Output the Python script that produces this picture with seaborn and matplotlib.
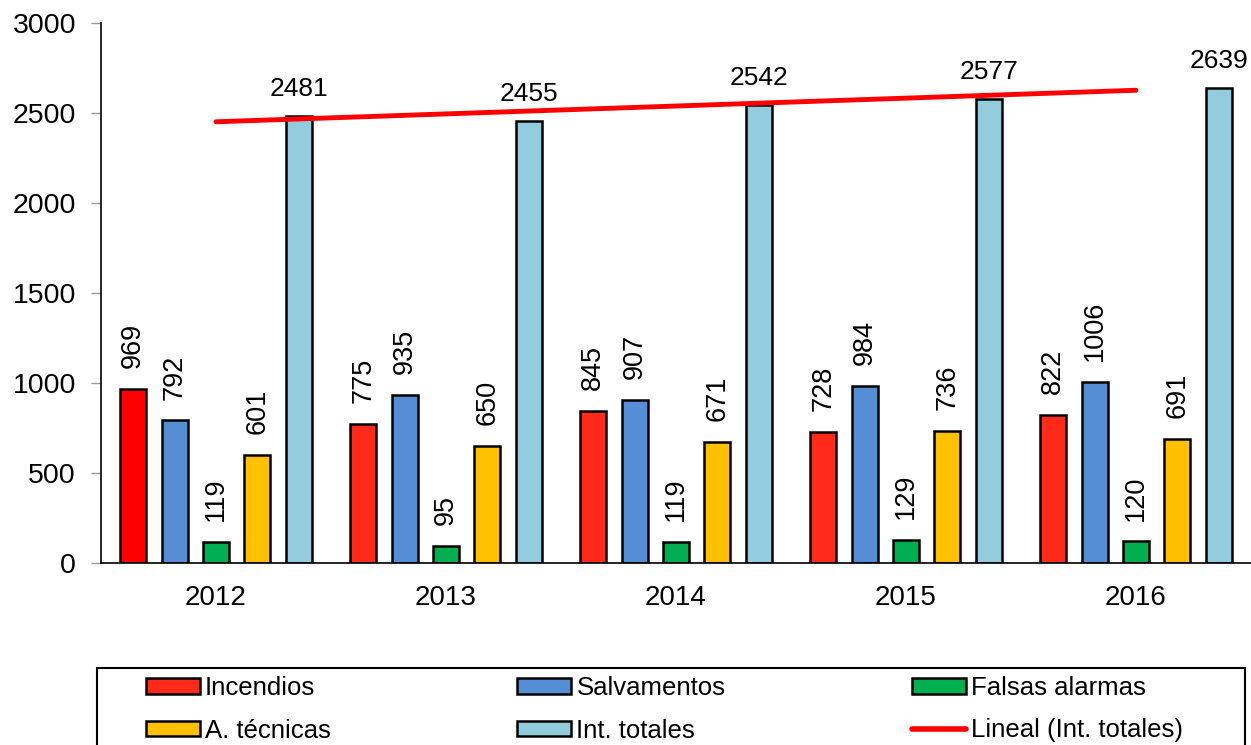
import numpy as np
import pandas as pd
import matplotlib.pyplot as plt
import seaborn as sns
from matplotlib.patches import Patch, Rectangle
from matplotlib.lines import Line2D

anios = ['2012', '2013', '2014', '2015', '2016']
series = ['Incendios', 'Salvamentos', 'Falsas alarmas', 'A. técnicas', 'Int. totales']
incendios = [969, 775, 845, 728, 822]
salvamentos = [792, 935, 907, 984, 1006]
falsas_alarmas = [119, 95, 119, 129, 120]
a_tecnicas = [601, 650, 671, 736, 691]
int_totales = [2481, 2455, 2542, 2577, 2639]

colores = ['#FF2A1A', '#558ED5', '#00B050', '#FFC000', '#93CDDD']

df = pd.DataFrame({
    'anio': anios * 5,
    'serie': np.repeat(series, 5),
    'valor': incendios + salvamentos + falsas_alarmas + a_tecnicas + int_totales,
})

sns.set_style('white')
plt.rcParams['font.family'] = ['Liberation Sans', 'DejaVu Sans']
plt.rcParams['text.color'] = 'black'

fig = plt.figure(figsize=(12.51, 7.45), dpi=100)
ax = fig.add_axes([101 / 1251, 182 / 745, 1150 / 1251, 540 / 745])

sns.barplot(data=df, x='anio', y='valor', hue='serie', hue_order=series,
            palette=colores, saturation=1, width=0.9, gap=0.37,
            edgecolor='black', linewidth=1.8, legend=False, ax=ax)

# el primer bar de incendios es rojo puro
ax.containers[0].patches[0].set_facecolor('#FF0000')

for i, cont in enumerate(ax.containers):
    if i == 4:
        ax.bar_label(cont, padding=11, fontsize=19, color='black')
    else:
        ax.bar_label(cont, padding=15, fontsize=19.5, rotation=90, color='black')

# linea de tendencia (Lineal Int. totales)
xs = np.arange(len(anios))
coef = np.polyfit(xs, int_totales, 1)
sns.lineplot(x=xs, y=np.polyval(coef, xs), color='#FF0000', linewidth=3.5,
             solid_capstyle='round', ax=ax)

ax.set_xlim(-0.5, 4.5)
ax.set_ylim(0, 3000)
ax.set_yticks(range(0, 3001, 500))
ax.set_xlabel('')
ax.set_ylabel('')
ax.set_xticks(np.arange(-0.5, 5, 1), minor=True)
ax.tick_params(axis='x', which='major', length=0, pad=16, labelsize=20, labelcolor='black')
ax.tick_params(axis='x', which='minor', length=7, color='#999999', width=1, direction='out')
ax.tick_params(axis='y', length=7, color='#999999', width=1, pad=11, labelsize=20.5,
               labelcolor='black', left=True)
for s in ['top', 'right']:
    ax.spines[s].set_visible(False)
for s in ['left', 'bottom']:
    ax.spines[s].set_color('black')
    ax.spines[s].set_linewidth(1.2)

h = [Patch(facecolor=c, edgecolor='black', linewidth=1.8) for c in colores]
h.append(Line2D([0], [0], color='#FF0000', linewidth=4, solid_capstyle='round'))
labels = series + ['Lineal (Int. totales)']
orden = [0, 3, 1, 4, 2, 5]
leg = fig.legend([h[k] for k in orden], [labels[k] for k in orden], ncol=3,
                 loc='upper left', bbox_to_anchor=(146 / 1251, 1 - 676 / 745),
                 fontsize=18.5, frameon=False,
                 handlelength=2.1, handleheight=0.55, handletextpad=0.2,
                 columnspacing=7.25, labelspacing=0.72, borderpad=0,
                 borderaxespad=0)
# marco de la leyenda (cortado abajo como en el original)
fig.patches.append(Rectangle((97 / 1251, -0.1), 1148 / 1251, 0.1 + (745 - 668) / 745,
                             transform=fig.transFigure, fill=False,
                             edgecolor='black', linewidth=1.5))

fig.savefig('out.png', dpi=100)
